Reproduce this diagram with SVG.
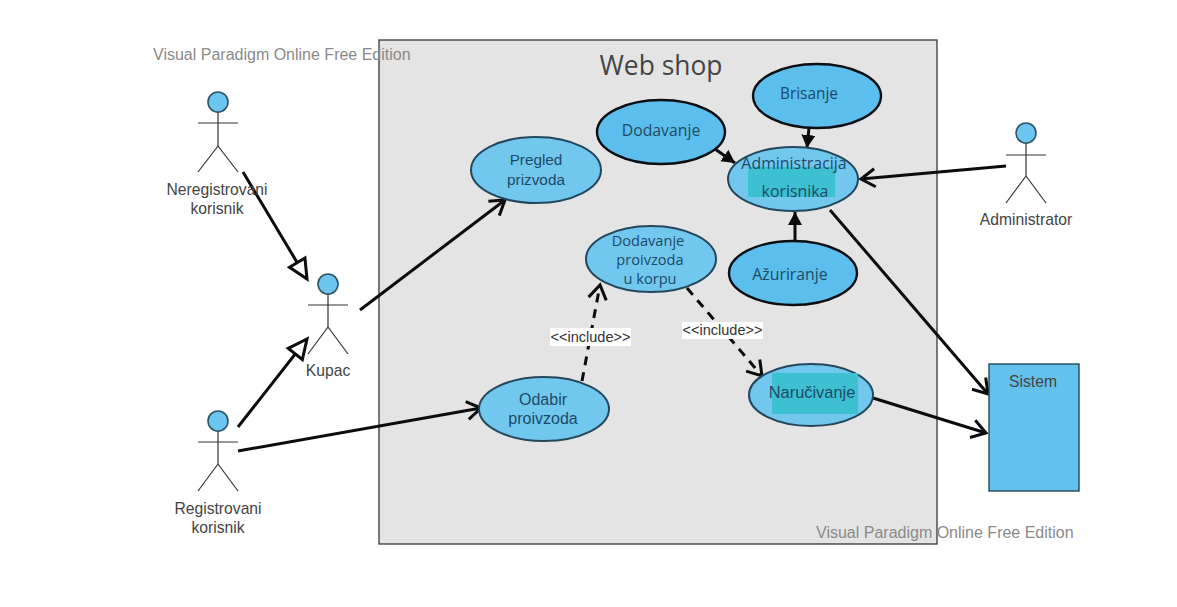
<svg xmlns="http://www.w3.org/2000/svg" width="1177" height="607" viewBox="0 0 1177 607">
<style>
text{font-family:"Liberation Sans",Arial,sans-serif;font-size:15.7px;fill:#444;text-anchor:middle}
.uc text{fill:#1a4a68;font-size:15.3px}
.n text{font-family:"Open Sans","Noto Sans",sans-serif;font-size:15.4px;fill:#1c4a68}
.wm{font-size:16px;fill:#8a8a8a;text-anchor:start}
.u{fill:#72c7ef;stroke:#24475c;stroke-width:2}
.d{fill:#5cbeec;stroke:#0b0f14;stroke-width:2.4}
.a line{stroke:#333;stroke-width:1.2}
.a circle{fill:#6cc6ef;stroke:#2d5568;stroke-width:1.6}
.c{fill:none;stroke:#0c0c0c;stroke-width:3}
.da{stroke-dasharray:9 7}
.lbl{font-size:14.5px;fill:#333}
</style>
<defs>
<marker id="open" markerUnits="userSpaceOnUse" markerWidth="24" markerHeight="24" refX="17" refY="11" orient="auto"><path d="M3 2 L17 11 L3 20" fill="none" stroke="#0c0c0c" stroke-width="3"/></marker>
<marker id="tri" markerUnits="userSpaceOnUse" markerWidth="26" markerHeight="26" refX="21" refY="12" orient="auto"><path d="M2 3 L21 12 L2 21 Z" fill="#fff" stroke="#0c0c0c" stroke-width="3"/></marker>
<marker id="fill" markerUnits="userSpaceOnUse" markerWidth="16" markerHeight="16" refX="13" refY="7" orient="auto"><path d="M0 0 L13 7 L0 14 Z" fill="#0c0c0c"/></marker>
</defs>
<rect width="1177" height="607" fill="#fff"/>
<g id="boundary">
<rect x="379" y="40" width="558" height="504" fill="#e4e4e4" stroke="#444" stroke-width="1.4"/>
<text x="661" y="75" style="font-family:'Open Sans','Noto Sans',sans-serif;font-size:26.400px;fill:#444">Web shop</text>
</g>
<text class="wm" x="153" y="60">Visual Paradigm Online Free Edition</text>
<text class="wm" x="816" y="538">Visual Paradigm Online Free Edition</text>

<g id="connectors">
<line class="c" x1="243" y1="172" x2="307" y2="279" marker-end="url(#tri)"/>
<line class="c" x1="238" y1="427" x2="307" y2="339" marker-end="url(#tri)"/>
<line class="c" x1="360" y1="310" x2="505" y2="200" marker-end="url(#open)"/>
<line class="c" x1="238" y1="451" x2="481" y2="408" marker-end="url(#open)"/>
<line class="c da" x1="582" y1="381" x2="600" y2="285" marker-end="url(#open)"/>
<line class="c da" x1="687" y1="288" x2="762" y2="376" marker-end="url(#open)"/>
<line class="c" x1="715" y1="149" x2="735" y2="163" marker-end="url(#fill)"/>
<line class="c" x1="809" y1="128" x2="807" y2="148" marker-end="url(#fill)"/>
<line class="c" x1="795" y1="242" x2="795" y2="212" marker-end="url(#fill)"/>
<line class="c" x1="1006" y1="166" x2="861" y2="179" marker-end="url(#open)"/>
<line class="c" x1="830" y1="210" x2="988" y2="394" marker-end="url(#open)"/>
<line class="c" x1="873" y1="398" x2="986" y2="433" marker-end="url(#open)"/>
</g>

<g id="actor-neregistrovani" class="a">
<circle cx="218" cy="102" r="10"/>
<line x1="218" y1="112" x2="218" y2="146"/><line x1="198" y1="123" x2="238" y2="123"/>
<line x1="218" y1="146" x2="198" y2="172"/><line x1="218" y1="146" x2="238" y2="172"/>
<text x="217" y="195">Neregistrovani</text><text x="217" y="214">korisnik</text>
</g>
<g id="actor-kupac" class="a">
<circle cx="328" cy="284" r="10"/>
<line x1="328" y1="294" x2="328" y2="327"/><line x1="308" y1="305" x2="348" y2="305"/>
<line x1="328" y1="327" x2="308" y2="354"/><line x1="328" y1="327" x2="348" y2="354"/>
<text x="328" y="376">Kupac</text>
</g>
<g id="actor-registrovani" class="a">
<circle cx="218" cy="421" r="10"/>
<line x1="218" y1="431" x2="218" y2="464"/><line x1="198" y1="442" x2="238" y2="442"/>
<line x1="218" y1="464" x2="198" y2="491"/><line x1="218" y1="464" x2="238" y2="491"/>
<text x="218" y="514">Registrovani</text><text x="218" y="533">korisnik</text>
</g>
<g id="actor-administrator" class="a">
<circle cx="1026" cy="133" r="10"/>
<line x1="1026" y1="143" x2="1026" y2="176"/><line x1="1006" y1="155" x2="1046" y2="155"/>
<line x1="1026" y1="176" x2="1006" y2="203"/><line x1="1026" y1="176" x2="1046" y2="203"/>
<text x="1026" y="225">Administrator</text>
</g>

<g id="uc-pregled" class="uc">
<ellipse class="u" cx="536" cy="170" rx="65" ry="33"/>
<text x="536" y="165">Pregled</text><text x="536" y="185">prizvoda</text>
</g>
<g id="uc-dodavanje-korpa" class="uc">
<ellipse class="u" cx="651" cy="259" rx="65" ry="33"/>
<text x="648" y="246" style="font-family:'Open Sans','Noto Sans',sans-serif;font-size:14.600px">Dodavanje</text><text x="650" y="265" style="font-family:'Open Sans','Noto Sans',sans-serif;font-size:14.600px">proivzoda</text><text x="650" y="284" style="font-family:'Open Sans','Noto Sans',sans-serif;font-size:14.600px">u korpu</text>
</g>
<g id="uc-odabir" class="uc">
<ellipse class="u" cx="544" cy="409" rx="65" ry="32"/>
<text x="543" y="405" style="font-size:16px">Odabir</text><text x="543" y="424" style="font-size:16px">proivzoda</text>
</g>
<g id="uc-narucivanje" class="uc">
<ellipse class="u" cx="811" cy="395" rx="62" ry="31"/>
<rect x="772" y="373" width="86" height="41" fill="#3cc0d2"/>
<text x="812" y="398" style="font-size:16.400px">Naručivanje</text>
</g>
<g id="uc-administracija" class="uc n">
<ellipse class="u" cx="793" cy="179" rx="65" ry="32"/>
<rect x="748" y="167" width="87" height="30" fill="#3cc0d2"/>
<text x="794" y="169" style="font-size:15.900px">Administracija</text><text x="795" y="197" style="font-size:15.900px">korisnika</text>
</g>
<g id="uc-dodavanje" class="n">
<ellipse class="d" cx="661" cy="132" rx="64" ry="32"/>
<text x="661" y="136" style="font-size:15.800px">Dodavanje</text>
</g>
<g id="uc-brisanje" class="n">
<ellipse class="d" cx="817" cy="96" rx="64" ry="32"/>
<text x="809" y="99">Brisanje</text>
</g>
<g id="uc-azuriranje" class="n">
<ellipse class="d" cx="793" cy="273" rx="64" ry="32"/>
<text x="790" y="280" style="font-size:15.800px">Ažuriranje</text>
</g>
<g id="sistem">
<rect x="989" y="364" width="90" height="127" fill="#63c1ec" stroke="#24475c" stroke-width="1.4"/>
<text x="1033" y="387">Sistem</text>
</g>
<g id="label-include-1"><rect x="550" y="328" width="81" height="18" fill="#fff"/><text class="lbl" x="590.500" y="342">&lt;&lt;include&gt;&gt;</text></g>
<g id="label-include-2"><rect x="682" y="322" width="81" height="17" fill="#fff"/><text class="lbl" x="722.500" y="335">&lt;&lt;include&gt;&gt;</text></g>
</svg>
